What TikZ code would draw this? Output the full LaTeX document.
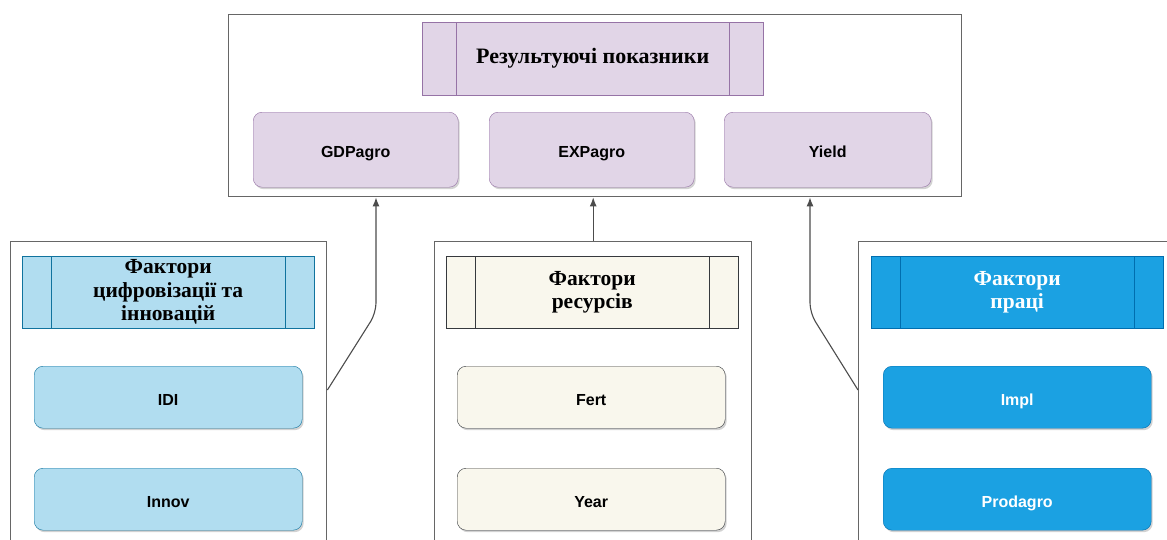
\documentclass[tikz,border=0pt]{standalone}
\usepackage{fontspec}
\setmainfont{Liberation Serif}
\setsansfont{Liberation Sans}
\usetikzlibrary{shadows,arrows.meta,calc}

\definecolor{resfill}{HTML}{E1D5E7}
\definecolor{resline}{HTML}{9673A6}
\definecolor{digfill}{HTML}{B1DDF0}
\definecolor{digline}{HTML}{10739E}
\definecolor{srcfill}{HTML}{F9F7ED}
\definecolor{srcline}{HTML}{36393D}
\definecolor{labfill}{HTML}{1BA1E2}
\definecolor{labline}{HTML}{006EAF}
\definecolor{frameline}{HTML}{666666}

\begin{document}
\begin{tikzpicture}[x=1pt,y=-1pt,
    frame/.style={draw=frameline, line width=1.4pt, fill=white, anchor=north west, inner sep=0pt},
    hdr/.style 2 args={draw=#2, fill=#1, anchor=north west, align=center, inner sep=0pt,
        font=\bfseries\fontsize{21.5}{23.5}\selectfont,
        path picture={\draw[#2]
            ($(path picture bounding box.north west)!0.1!(path picture bounding box.north east)$) --
            ($(path picture bounding box.south west)!0.1!(path picture bounding box.south east)$)
            ($(path picture bounding box.north west)!0.9!(path picture bounding box.north east)$) --
            ($(path picture bounding box.south west)!0.9!(path picture bounding box.south east)$);}},
    item/.style 2 args={draw=#2, fill=#1, anchor=north west, rounded corners=9pt, inner sep=0pt,
        font=\sffamily\bfseries\fontsize{16}{19}\selectfont, text height=20pt, text depth=3.5pt,
        drop shadow={opacity=0.35, shadow xshift=1.5pt, shadow yshift=-2pt}},
    link/.style={draw=black!70, line width=1.1pt, rounded corners=10pt, -{Latex[length=9pt,width=7pt]}}]

    \useasboundingbox (0,0) rectangle (1167,539);
    \clip (0,0) rectangle (1167,539);

    % outcome indicators
    \node[frame, minimum width=733pt, minimum height=182pt] (res) at (228,14) {};
    \node[hdr={resfill}{resline}, minimum width=341pt, minimum height=73pt, font=\bfseries\fontsize{22}{25}\selectfont] (reshead) at (422,22) {Результуючі показники};
    \node[item={resfill}{resline}, minimum width=205pt, minimum height=75pt] (gdp) at (253,112) {GDPagro};
    \node[item={resfill}{resline}, minimum width=205pt, minimum height=75pt] (exp) at (489,112) {EXPagro};
    \node[item={resfill}{resline}, minimum width=207pt, minimum height=75pt] (yield) at (724,112) {Yield};

    % factor panels
    \node[frame, minimum width=316pt, minimum height=320pt] (pdig) at (10,241) {};
    \node[frame, minimum width=317pt, minimum height=320pt] (pres) at (434,241) {};
    \node[frame, minimum width=340pt, minimum height=320pt] (plab) at (858,241) {};

    \node[hdr={digfill}{digline}, minimum width=292pt, minimum height=72pt] (dighead) at (22,256) {Фактори\\цифровізації та\\інновацій};
    \node[hdr={srcfill}{srcline}, minimum width=292pt, minimum height=72pt] (srchead) at (446,256) {Фактори\\ресурсів};
    \node[hdr={labfill}{labline}, minimum width=292pt, minimum height=72pt, text=white] (labhead) at (871,256) {Фактори\\праці};

    \node[item={digfill}{digline}, minimum width=268pt, minimum height=62pt] (idi) at (34,366) {IDI};
    \node[item={digfill}{digline}, minimum width=268pt, minimum height=62pt] (innov) at (34,468) {Innov};
    \node[item={srcfill}{srcline}, minimum width=268pt, minimum height=62pt] (fert) at (457,366) {Fert};
    \node[item={srcfill}{srcline}, minimum width=268pt, minimum height=62pt] (year) at (457,468) {Year};
    \node[item={labfill}{labline}, minimum width=268pt, minimum height=62pt, text=white] (impl) at (883,366) {Impl};
    \node[item={labfill}{labline}, minimum width=268pt, minimum height=62pt, text=white] (prod) at (883,468) {Prodagro};

    % links
    \coordinate (kneeL) at (376,313);
    \coordinate (kneeR) at (810,313);
    \draw[link] ([yshift=-149pt]pdig.north east) -- (kneeL) -- (kneeL |- res.south);
    \draw[link] (pres.north) -- (pres.north |- res.south);
    \draw[link] ([yshift=-149pt]plab.north west) -- (kneeR) -- (kneeR |- res.south);
\end{tikzpicture}
\end{document}
